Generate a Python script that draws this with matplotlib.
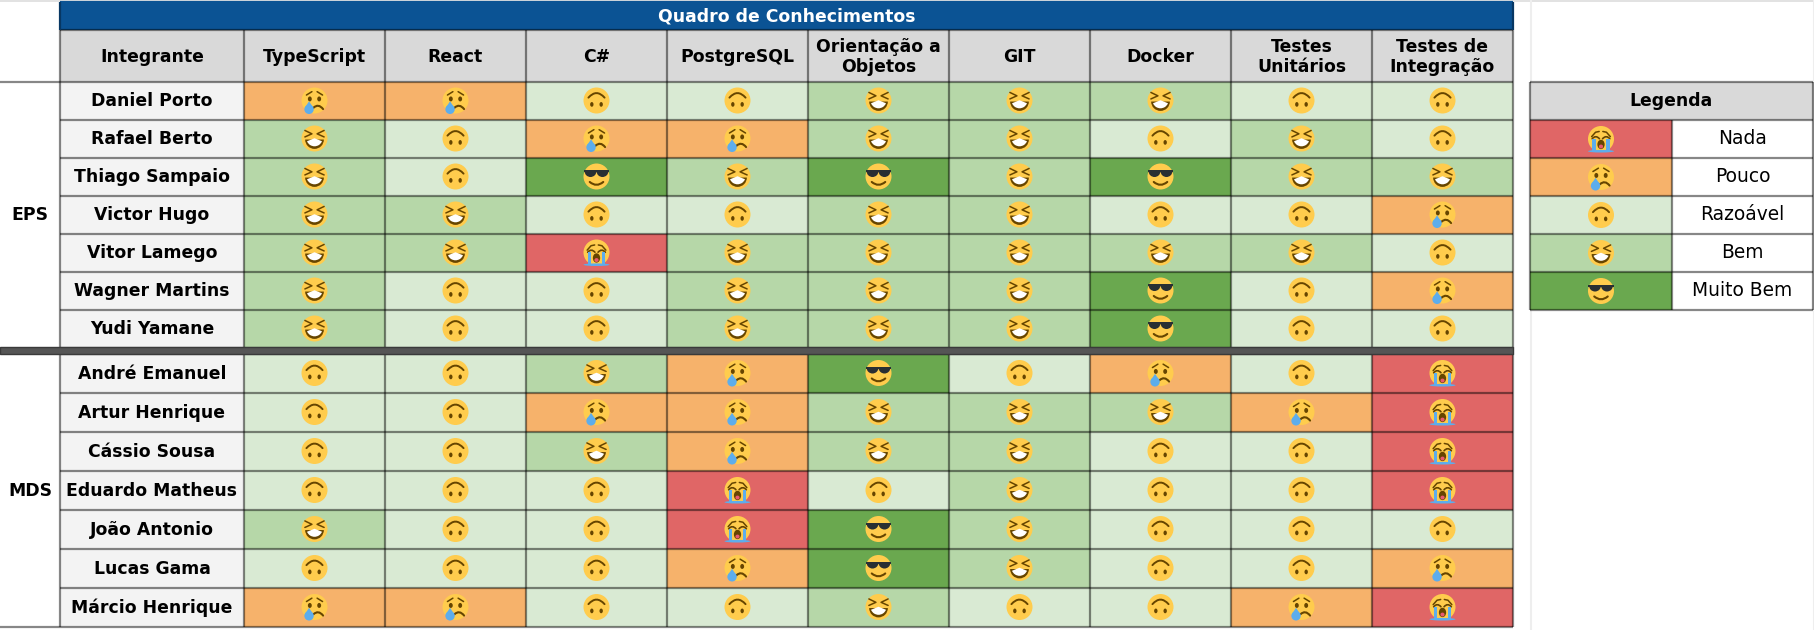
#!/usr/bin/env python3
"""Quadro de Conhecimentos: team skill matrix with emoji levels."""

import matplotlib

matplotlib.use("Agg")
import matplotlib.pyplot as plt
from matplotlib.patches import Circle, Ellipse, PathPatch, Polygon, Rectangle, Wedge
from matplotlib.path import Path

title = "Quadro de Conhecimentos"
first_header = "Integrante"
columns = ["TypeScript", "React", "C#", "PostgreSQL", "Orientação a\nObjetos", "GIT",
           "Docker", "Testes\nUnitários", "Testes de\nIntegração"]
level_names = ["Nada", "Pouco", "Razoável", "Bem", "Muito Bem"]

eps_names = ["Daniel Porto", "Rafael Berto", "Thiago Sampaio", "Victor Hugo",
             "Vitor Lamego", "Wagner Martins", "Yudi Yamane"]
eps_levels = [
    [1, 1, 2, 2, 3, 3, 3, 2, 2],
    [3, 2, 1, 1, 3, 3, 2, 3, 2],
    [3, 2, 4, 3, 4, 3, 4, 3, 3],
    [3, 3, 2, 2, 3, 3, 2, 2, 1],
    [3, 3, 0, 3, 3, 3, 3, 3, 2],
    [3, 2, 2, 3, 3, 3, 4, 2, 1],
    [3, 2, 2, 3, 3, 3, 4, 2, 2],
]

mds_names = ["André Emanuel", "Artur Henrique", "Cássio Sousa", "Eduardo Matheus",
             "João Antonio", "Lucas Gama", "Márcio Henrique"]
mds_levels = [
    [2, 2, 3, 1, 4, 2, 1, 2, 0],
    [2, 2, 1, 1, 3, 3, 3, 1, 0],
    [2, 2, 3, 1, 3, 3, 2, 2, 0],
    [2, 2, 2, 0, 2, 3, 2, 2, 0],
    [3, 2, 2, 0, 4, 3, 2, 2, 2],
    [2, 2, 2, 1, 4, 3, 2, 2, 1],
    [1, 1, 2, 2, 3, 2, 2, 1, 0],
]

level_colors = ["#e06666", "#f6b26b", "#d9ead3", "#b6d7a8", "#6aa84f"]
FONT = "DejaVu Sans"
LINE = "#00000078"
LW = 1.6

fig = plt.figure(figsize=(18.15, 6.3), dpi=100)
ax = fig.add_axes([0, 0, 1, 1])
ax.set_xlim(0, 1815)
ax.set_ylim(630, 0)
ax.axis("off")


def curve(cx, cy, r, pts, color, lw=1.2, z=5):
    # quadratic curve through three points given in emoji units
    xy = [(cx + x * r, cy + y * r) for x, y in pts]
    path = Path(xy, [Path.MOVETO, Path.CURVE3, Path.CURVE3])
    ax.add_patch(PathPatch(path, fc="none", ec=color, lw=lw, capstyle="round", zorder=z))


def polyline(cx, cy, r, pts, color, lw=1.1, z=5):
    ax.plot([cx + x * r for x, y in pts], [cy + y * r for x, y in pts], color=color, lw=lw,
            solid_capstyle="round", solid_joinstyle="round", zorder=z)


def emoji(level, cx, cy, r=13):
    brown = "#664500"
    blue = "#5dadec"
    ax.add_patch(Circle((cx, cy), r, fc="#ffcc4d", ec="none", zorder=4))
    if level == 2:
        # upside-down face
        ax.add_patch(Ellipse((cx - 0.36 * r, cy + 0.3 * r), 0.26 * r, 0.36 * r, fc=brown, zorder=5))
        ax.add_patch(Ellipse((cx + 0.36 * r, cy + 0.3 * r), 0.26 * r, 0.36 * r, fc=brown, zorder=5))
        curve(cx, cy, r, [(-0.62, -0.22), (0, -0.92), (0.62, -0.22)], brown, 1.4)
    elif level == 3:
        # laughing face with squeezed eyes
        polyline(cx, cy, r, [(-0.74, -0.62), (-0.2, -0.36), (-0.74, -0.12)], brown)
        polyline(cx, cy, r, [(0.74, -0.62), (0.2, -0.36), (0.74, -0.12)], brown)
        ax.add_patch(Wedge((cx, cy + 0.08 * r), 0.72 * r, 0, 180, fc=brown, ec="none", zorder=5))
        ax.add_patch(Wedge((cx, cy - 0.02 * r), 0.62 * r, 22, 158, fc="white", ec="none", zorder=6))
    elif level == 4:
        # sunglasses
        ax.add_patch(Rectangle((cx - 0.98 * r, cy - 0.48 * r), 1.96 * r, 0.14 * r, fc="#292f33", zorder=5))
        for side in (-1, 1):
            ax.add_patch(Wedge((cx + side * 0.46 * r, cy - 0.42 * r), 0.46 * r, 0, 180,
                               fc="#292f33", ec="none", zorder=5))
        curve(cx, cy, r, [(-0.52, 0.42), (0, 0.86), (0.52, 0.42)], brown, 1.5)
    elif level == 1:
        # crying face with one tear
        polyline(cx, cy, r, [(-0.62, -0.42), (-0.2, -0.68)], brown)
        polyline(cx, cy, r, [(0.62, -0.42), (0.2, -0.68)], brown)
        ax.add_patch(Ellipse((cx - 0.36 * r, cy - 0.12 * r), 0.3 * r, 0.38 * r, fc=brown, zorder=5))
        ax.add_patch(Ellipse((cx + 0.36 * r, cy - 0.12 * r), 0.3 * r, 0.38 * r, fc=brown, zorder=5))
        curve(cx, cy, r, [(-0.08, 0.56), (0.3, 0.2), (0.66, 0.66)], brown, 1.5)
        ax.add_patch(Circle((cx - 0.42 * r, cy + 0.68 * r), 0.36 * r, fc=blue, ec="none", zorder=6))
        ax.add_patch(Polygon([(cx - 0.42 * r, cy + 0.06 * r), (cx - 0.76 * r, cy + 0.58 * r),
                              (cx - 0.08 * r, cy + 0.58 * r)], fc=blue, ec="none", zorder=6))
    else:
        # loudly crying face
        polyline(cx, cy, r, [(-0.72, -0.18), (-0.42, -0.52), (-0.14, -0.58)], brown)
        polyline(cx, cy, r, [(0.72, -0.18), (0.42, -0.52), (0.14, -0.58)], brown)
        curve(cx, cy, r, [(-0.68, -0.02), (-0.4, -0.34), (-0.12, -0.02)], brown, 1.2)
        curve(cx, cy, r, [(0.68, -0.02), (0.4, -0.34), (0.12, -0.02)], brown, 1.2)
        ax.add_patch(Ellipse((cx, cy + 0.42 * r), 0.56 * r, 0.72 * r, fc=brown, zorder=5))
        ax.add_patch(Ellipse((cx, cy + 0.58 * r), 0.32 * r, 0.3 * r, fc="#e8596e", zorder=6))
        for side in (-1, 1):
            ax.add_patch(Rectangle((cx + side * 0.54 * r - 0.13 * r, cy - 0.02 * r), 0.26 * r, 0.96 * r,
                                   fc=blue, ec="none", zorder=6))
        ax.add_patch(Ellipse((cx, cy + 0.94 * r), 2.0 * r, 0.2 * r, fc=blue, ec="none", zorder=6))


def cell(x0, x1, y0, y1, color):
    ax.add_patch(Rectangle((x0, y0), x1 - x0, y1 - y0, fc=color, ec="none", zorder=1))


def label(x, y, text, weight="bold", size=12.4, color="black"):
    ax.text(x, y, text, ha="center", va="center", family=FONT, fontweight=weight, fontsize=size,
            color=color, linespacing=1.1, zorder=7)


x_edges = [60, 244] + [244 + 141 * (i + 1) for i in range(len(columns))]
right = x_edges[-1]
group_blocks = [("EPS", eps_names, eps_levels, 82, 38), ("MDS", mds_names, mds_levels, 354, 39)]

# spreadsheet gridlines behind the table
ax.add_patch(Rectangle((0, 0), 1815, 2, fc="#e2e2e2", ec="none", zorder=0))
ax.vlines([1531, 1814], 0, 630, color="#eeeeee", lw=1.5, zorder=0)

# title and header
cell(60, right, 2, 30, "#0b5394")
label((60 + right) / 2, 16.5, title, color="white")
cell(60, right, 30, 82, "#d9d9d9")
label(152, 57, first_header)
for i, name in enumerate(columns):
    label((x_edges[i + 1] + x_edges[i + 2]) / 2, 57, name)

# group blocks
for group, names, levels, top, h in group_blocks:
    bottom = top + h * len(names)
    label(30, (top + bottom) / 2, group)
    for r, name in enumerate(names):
        y0 = top + r * h
        cell(60, 244, y0, y0 + h, "#f3f3f3")
        label(152, y0 + h / 2 + 0.5, name)
        for c, level in enumerate(levels[r]):
            cell(x_edges[c + 1], x_edges[c + 2], y0, y0 + h, level_colors[level])
            emoji(level, (x_edges[c + 1] + x_edges[c + 2]) / 2, y0 + h / 2 - 0.5)
    ax.hlines([top + r * h for r in range(len(names) + 1)], 60, right, color=LINE, lw=LW, zorder=3)
    ax.vlines(x_edges, top, bottom, color=LINE, lw=LW, zorder=3)

# header rules and outer rows
ax.hlines([2], 60, right, color="#0b5394", lw=LW, zorder=3)
ax.hlines([30], 60, right, color=LINE, lw=LW, zorder=3)
ax.vlines(x_edges, 30, 82, color=LINE, lw=LW, zorder=3)
ax.vlines([60, right], 2, 30, color="#073763", lw=LW, zorder=3)
ax.hlines([82, 627], 0, 60, color=LINE, lw=LW, zorder=3)
ax.add_patch(Rectangle((0, 347), right, 7, fc="#555555", ec="#3a3a3a", lw=1, zorder=4))

# legend
leg_left, leg_mid, leg_right = 1530, 1672, 1813
cell(leg_left, leg_right, 82, 120, "#d9d9d9")
label((leg_left + leg_right) / 2, 101.5, "Legenda")
for i, name in enumerate(level_names):
    y0 = 120 + i * 38
    cell(leg_left, leg_mid, y0, y0 + 38, level_colors[i])
    emoji(i, (leg_left + leg_mid) / 2, y0 + 19)
    label((leg_mid + leg_right) / 2, y0 + 19, name, weight="normal", size=13.4)
ax.hlines([82 + i * 38 for i in range(len(level_names) + 2)], leg_left, leg_right, color=LINE, lw=LW, zorder=3)
ax.vlines([leg_left, leg_right], 82, 310, color=LINE, lw=LW, zorder=3)
ax.vlines([leg_mid], 120, 310, color=LINE, lw=LW, zorder=3)

fig.savefig("out.png", dpi=100)
